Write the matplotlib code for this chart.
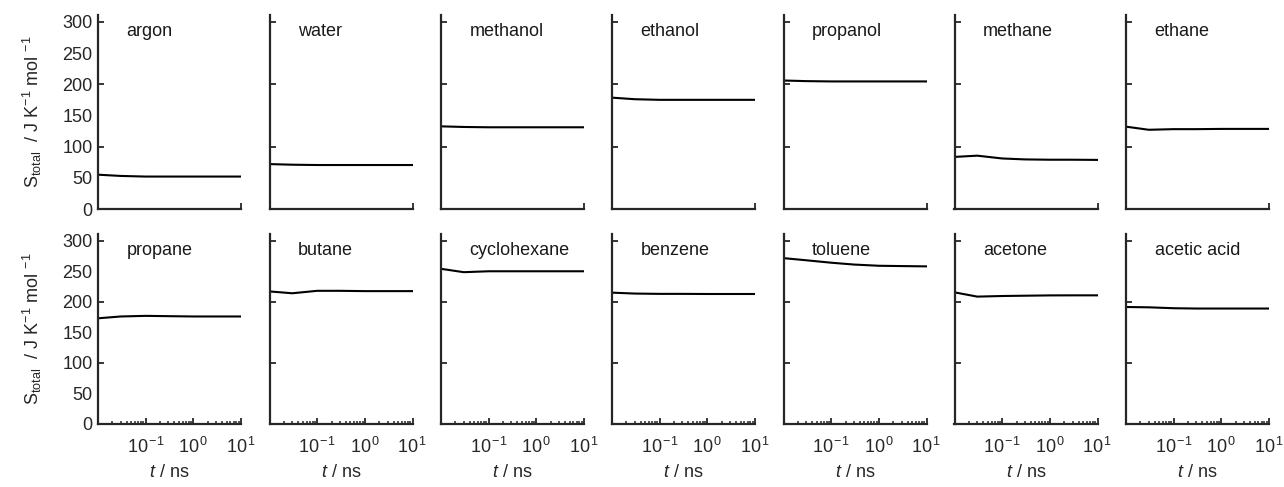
import matplotlib
matplotlib.use("Agg")
import matplotlib.pyplot as plt
import numpy as np

plt.rcParams['font.family'] = ['Liberation Sans', 'DejaVu Sans']
plt.rcParams['mathtext.fontset'] = 'custom'
plt.rcParams['mathtext.rm'] = 'Liberation Sans'
plt.rcParams['mathtext.it'] = 'Liberation Sans:italic'
FS = 13
plt.rcParams['font.size'] = FS

t = [0.01, 0.03, 0.1, 0.3, 1, 3, 10]

names = ["argon", "water", "methanol", "ethanol", "propanol", "methane", "ethane",
         "propane", "butane", "cyclohexane", "benzene", "toluene", "acetone", "acetic acid"]

argon = [55, 53, 52, 52, 52, 52, 52]
water = [72, 71, 70.5, 70.5, 70.5, 70.5, 70.5]
methanol = [132.5, 131.5, 131, 131, 131, 131, 131]
ethanol = [178.5, 176, 175, 175, 175, 175, 175]
propanol = [206, 205, 204.5, 204.5, 204.5, 204.5, 204.5]
methane = [83.5, 85.5, 81, 79.5, 79, 79, 78.7]
ethane = [132, 127, 128, 128, 128.4, 128.4, 128.4]
propane = [173, 176, 177, 176.5, 176, 176, 176]
butane = [217, 214, 218, 218, 217.5, 217.5, 217.5]
cyclohexane = [254, 248.5, 250, 250, 250, 250, 250]
benzene = [215, 213.5, 213, 213, 212.8, 212.8, 212.8]
toluene = [271.5, 268, 264, 261, 259, 258.5, 258]
acetone = [215.5, 208.5, 209.5, 210, 210.5, 210.6, 210.6]
acetic_acid = [191.5, 191, 189.5, 189, 189, 189, 189]

series = [argon, water, methanol, ethanol, propanol, methane, ethane,
          propane, butane, cyclohexane, benzene, toluene, acetone, acetic_acid]

yticks = [0, 50, 100, 150, 200, 250, 300]
xticks = [0.1, 1, 10]
xticklabels = [r'$10^{\,\mathrm{-1}}$', r'$10^{\,0}$', r'$10^{\,1}$']

W, H = 1284, 487
fig = plt.figure(figsize=(W / 100, H / 100), dpi=100)

lefts = [98, 269.5, 441, 612, 783.5, 954.5, 1126]
aw = 143
rows = [(15, 209), (234, 424)]
spine_col = '#262626'

for i, (name, vals) in enumerate(zip(names, series)):
    r, c = divmod(i, 7)
    top, bot = rows[r]
    ax = fig.add_axes([lefts[c] / W, 1 - bot / H, aw / W, (bot - top) / H])
    ax.plot(t, vals, color='black', lw=1.5)
    ax.set_xscale('log')
    ax.set_xlim(0.01, 10)
    ax.set_ylim(0, 311)
    for s in ['top', 'right']:
        ax.spines[s].set_visible(False)
    for s in ['left', 'bottom']:
        ax.spines[s].set_linewidth(1.6)
        ax.spines[s].set_color(spine_col)
    ax.tick_params(direction='in', length=4, width=1.3, color=spine_col,
                   labelsize=FS, labelcolor='#262626', pad=4)
    ax.tick_params(axis='x', pad=9)
    ax.tick_params(which='minor', direction='in', length=2.2, width=1.1, color=spine_col)
    ax.set_yticks(yticks)
    if c == 0:
        ax.set_yticklabels([str(v) for v in yticks])
        ax.set_ylabel(r'$\mathrm{S}_{\mathrm{total}}$  / J K$^{\mathrm{-1}}$ mol $^{\mathrm{-1}}$',
                      fontsize=FS, color='#262626', labelpad=13)
    else:
        ax.set_yticklabels([])
    for v, tk in zip(yticks, ax.yaxis.get_major_ticks()):
        if v % 100 != 0:
            tk.tick1line.set_visible(False)
    if r == 0:
        ax.set_xticks([10])
        ax.set_xticklabels([])
        ax.xaxis.set_minor_locator(matplotlib.ticker.NullLocator())
    else:
        ax.set_xticks(xticks)
        ax.set_xticklabels(xticklabels)
        ax.xaxis.set_minor_locator(matplotlib.ticker.LogLocator(base=10, subs=np.arange(2, 10)))
        ax.xaxis.set_minor_formatter(matplotlib.ticker.NullFormatter())
        ax.set_xlabel(r'$t$ / ns', fontsize=FS, color='#262626', labelpad=5)
    ax.text(0.2, 0.915, name, transform=ax.transAxes, fontsize=FS,
            ha='left', va='center', color='#1a1a1a')

fig.savefig('out.png', dpi=100)
